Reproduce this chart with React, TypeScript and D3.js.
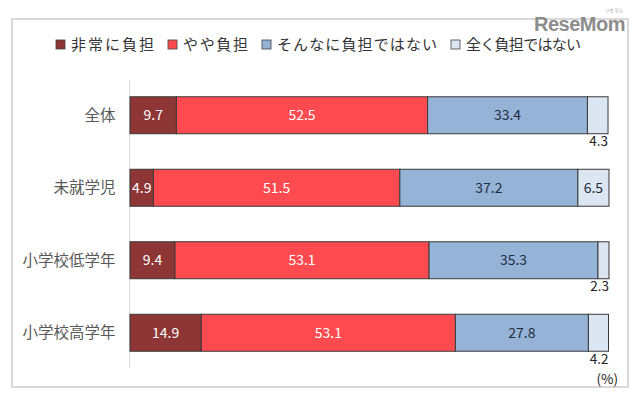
import React from 'react';
import * as d3 from 'd3';

const categories = ['全体', '未就学児', '小学校低学年', '小学校高学年'];
const seriesNames = ['非常に負担', 'やや負担', 'そんなに負担ではない', '全く負担ではない'];
const veryBurden = [9.7, 4.9, 9.4, 14.9];
const someBurden = [52.5, 51.5, 53.1, 53.1];
const notMuch = [33.4, 37.2, 35.3, 27.8];
const notAtAll = [4.3, 6.5, 2.3, 4.2];

const colors = ['#8e3535', '#ff4b4f', '#95b3d7', '#dce6f2'];
const textColors = ['#ffffff', '#ffffff', '#1f2d3d', '#1f2d3d'];
const font = '"Noto Sans CJK JP", "Noto Sans", sans-serif';

// legend layout (square x, text width)
const legendX = [56, 168, 262, 451];
const legendW = [83, 65, 160, 115];

const App: React.FC = () => {
  const W = 640;
  const H = 398;
  const values = [veryBurden, someBurden, notMuch, notAtAll];

  const rows = categories.map((c, i) => {
    const r: Record<string, number | string> = { cat: c };
    seriesNames.forEach((s, k) => (r[s] = values[k][i]));
    return r;
  });
  const stacked = d3.stack<Record<string, number | string>>().keys(seriesNames)(rows as any);

  const x = d3.scaleLinear().domain([0, 100]).range([130, 608.5]);
  const y = d3.scaleBand().domain(categories).range([79, 369]).paddingInner(0.49).paddingOuter(0.245);

  return (
    <svg width={W} height={H} style={{ position: 'absolute', left: 0, top: 0, fontFamily: font }}>
      <rect x={0} y={0} width={W} height={H} fill="#fff" />
      <rect x={12} y={19} width={616} height={368} fill="none" stroke="#d9d9d9" strokeWidth={2} />
      <text x={625} y={31} textAnchor="end" fontFamily="'Liberation Sans', sans-serif" fontWeight="bold" fontSize={20} fill="#8c8c8c" letterSpacing={-0.5}>ReseMom</text>
      <text x={623} y={11.5} textAnchor="end" fontSize={4.5} fill="#999">リセマム</text>

      {seriesNames.map((s, k) => (
        <g key={s}>
          <rect x={legendX[k]} y={40} width={9} height={9} fill={colors[k]} stroke="#404040" strokeWidth={0.8} />
          <text x={legendX[k] + 15} y={49.5} fontSize={15} fill="#333" textLength={legendW[k]} lengthAdjust="spacing">{s}</text>
        </g>
      ))}

      <line x1={129.5} x2={129.5} y1={80} y2={368} stroke="#d9d9d9" strokeWidth={1} />

      {categories.map((c) => (
        <text key={c} x={115.5} y={y(c)! + y.bandwidth() / 2 + 5.5} textAnchor="end" fontSize={15.5} fill="#595959">{c}</text>
      ))}

      {stacked.map((layer, k) => (
        <g key={layer.key}>
          {layer.map((d, i) => {
            const cat = categories[i];
            const x0 = x(d[0]);
            const x1 = x(d[1]);
            const yy = y(cat)!;
            const v = values[k][i];
            const outside = k === 3 && v < 5;
            return (
              <g key={cat}>
                <rect x={x0} y={yy} width={x1 - x0} height={y.bandwidth()} fill={colors[k]} stroke="#3a3a3a" strokeWidth={1} />
                {outside ? (
                  <text x={x1} y={yy + y.bandwidth() + 12.5} textAnchor="end" fontSize={13.5} fill="#222">{v.toFixed(1)}</text>
                ) : (
                  <text x={(x0 + x1) / 2} y={yy + y.bandwidth() / 2 + 5} textAnchor="middle" fontSize={14} fill={textColors[k]}>{v.toFixed(1)}</text>
                )}
              </g>
            );
          })}
        </g>
      ))}

      <text x={618} y={383.5} textAnchor="end" fontSize={13.5} fill="#222">(%)</text>
    </svg>
  );
};

export default App;
